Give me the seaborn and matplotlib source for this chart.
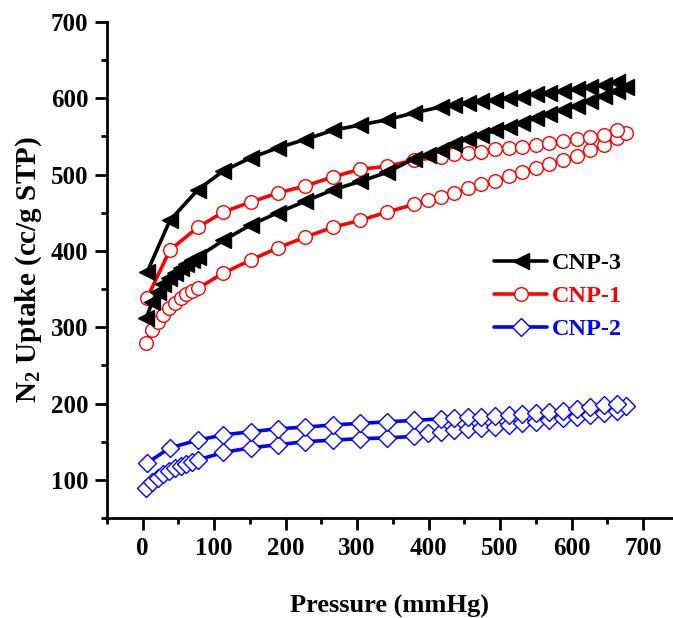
import matplotlib
matplotlib.use("Agg")
import matplotlib.pyplot as plt
from matplotlib.lines import Line2D
from matplotlib.ticker import MultipleLocator
import seaborn as sns
import pandas as pd

# Pressure points (mmHg)
p_ads = [5, 13, 21, 29, 37, 45, 53, 61, 69, 77, 113, 151, 189, 227, 266, 304, 342, 380,
         399, 418, 436, 455, 474, 493, 512, 531, 550, 569, 588, 607, 626, 645, 663, 676]
p_des = [6, 38, 77, 113, 151, 189, 227, 266, 304, 342, 380, 418, 436, 455, 474, 493,
         512, 531, 550, 569, 588, 607, 626, 645, 663]

# N2 uptake (cc/g STP)
cnp3_ads = [312, 333, 346, 356, 364, 371, 377, 383, 388, 392, 414, 434, 450, 465, 480, 491, 503, 521,
            526, 532, 540, 547, 552, 558, 563, 568, 574, 579, 585, 590, 597, 603, 609, 615]
cnp3_des = [372, 440, 480, 505, 522, 535, 546, 558, 565, 572, 581, 589, 591, 594, 596, 598,
            600, 602, 605, 607, 609, 612, 615, 618, 621]
cnp1_ads = [279, 296, 307, 316, 325, 332, 338, 344, 347, 351, 371, 388, 404, 418, 431, 440, 451, 461,
            467, 471, 476, 482, 488, 492, 498, 503, 509, 514, 519, 524, 532, 539, 548, 555]
cnp1_des = [338, 401, 431, 451, 464, 476, 485, 497, 507, 511, 519, 523, 527, 528, 530, 534,
            535, 536, 539, 541, 544, 547, 549, 552, 558]
cnp2_ads = [89, 97, 103, 108, 112, 115, 118, 121, 124, 126, 136, 142, 146, 150, 152, 154, 155, 157,
            161, 163, 165, 167, 168, 169, 172, 174, 176, 178, 181, 183, 185, 188, 190, 197]
cnp2_des = [122, 142, 152, 159, 163, 167, 169, 172, 174, 176, 178, 180, 181, 182, 183, 184,
            185, 186, 188, 189, 190, 193, 195, 198, 200]

labels = ["CNP-3", "CNP-1", "CNP-2"]
colors = ["#000000", "#FF0000", "#0000FF"]

sns.set_style("ticks")
plt.rcParams["font.family"] = ["Liberation Serif", "DejaVu Serif"]
plt.rcParams["font.weight"] = "bold"
for k in ["text.color", "axes.labelcolor", "xtick.color", "ytick.color", "axes.edgecolor"]:
    plt.rcParams[k] = "black"
plt.rcParams["mathtext.fontset"] = "custom"
plt.rcParams["mathtext.rm"] = "Liberation Serif:bold"
plt.rcParams["mathtext.it"] = "Liberation Serif:bold"
plt.rcParams["mathtext.bf"] = "Liberation Serif:bold"

fig = plt.figure(figsize=(6.73, 6.18), dpi=100)
ax = fig.add_axes([107 / 673, 1 - 518 / 618, 1 - 107 / 673, (518 - 22) / 618])

styles = {
    "CNP-3": dict(marker="<", markersize=12, markerfacecolor="#000000", markeredgecolor="#000000",
                  markeredgewidth=1.0, linewidth=2.6),
    "CNP-1": dict(marker="o", markersize=9.8, markerfacecolor="white", markeredgecolor="#FF0000",
                  markeredgewidth=1.0, linewidth=2.6),
    "CNP-2": dict(marker="D", markersize=8.8, markerfacecolor="white", markeredgecolor="#0000FF",
                  markeredgewidth=1.0, linewidth=2.6),
}

series = [
    ("CNP-2", cnp2_ads, cnp2_des),
    ("CNP-1", cnp1_ads, cnp1_des),
    ("CNP-3", cnp3_ads, cnp3_des),
]
cmap = dict(zip(labels, colors))
for name, ads, des in series:
    df_a = pd.DataFrame({"P": p_ads, "U": ads})
    df_d = pd.DataFrame({"P": p_des, "U": des})
    for df in (df_a, df_d):
        sns.lineplot(data=df, x="P", y="U", ax=ax, sort=False, estimator=None,
                     color=cmap[name], legend=False, **styles[name])

ax.set_xlim(-50, 742)
ax.set_ylim(50, 700)
ax.xaxis.set_major_locator(MultipleLocator(100))
ax.xaxis.set_minor_locator(MultipleLocator(50))
ax.yaxis.set_major_locator(MultipleLocator(100))
ax.yaxis.set_minor_locator(MultipleLocator(50))
ax.set_yticks([100, 200, 300, 400, 500, 600, 700])
for s in ["top", "right"]:
    ax.spines[s].set_visible(False)
for s in ["left", "bottom"]:
    ax.spines[s].set_linewidth(2.0)
ax.tick_params(which="major", direction="out", length=8.5, width=2.0, labelsize=18, pad=5)
ax.tick_params(which="minor", direction="out", length=4, width=2.0)
for lab in ax.get_xticklabels() + ax.get_yticklabels():
    lab.set_fontweight("bold")

ax.set_xlabel("Pressure (mmHg)", fontsize=19, fontweight="bold", labelpad=25)
ax.set_ylabel("N$_2$ Uptake (cc/g STP)", fontsize=21, fontweight="bold", labelpad=5)

handles = [Line2D([0], [0], color=cmap[n], **styles[n]) for n in labels]
leg = ax.legend(handles, labels, loc="upper left", bbox_to_anchor=(0.645, 0.58),
                frameon=False, handlelength=2.2, handletextpad=0.2,
                labelspacing=0.45, prop={"weight": "bold", "size": 17.5})
for txt, c in zip(leg.get_texts(), colors):
    txt.set_color(c)

fig.savefig("out.png", dpi=100)
